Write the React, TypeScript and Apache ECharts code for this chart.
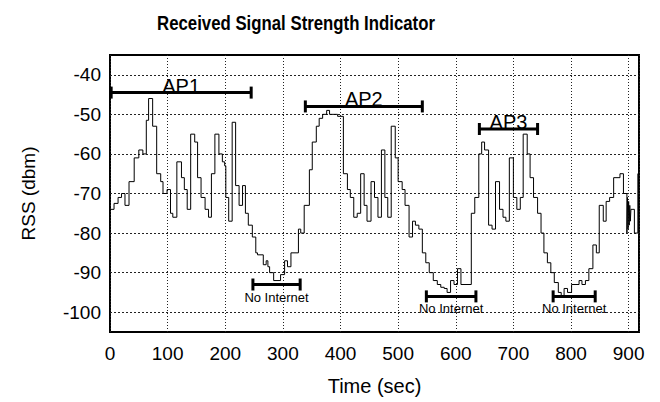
import React, { useEffect, useRef } from 'react';
import * as echarts from 'echarts';

const timeSec = [
  0, 7, 14, 20, 26, 33, 42, 50, 57, 63, 67, 74, 81, 88, 92, 99, 105, 109, 116, 124,
  129, 134, 140, 147, 152, 158, 165, 171, 176, 182, 189, 195, 199, 201, 206, 212, 218, 224, 230, 235,
  240, 247, 253, 256, 266, 271, 274, 277, 284, 296, 303, 308, 314, 327, 331, 337, 346, 351, 358, 363,
  369, 376, 381, 395, 405, 412, 417, 423, 429, 435, 441, 446, 453, 459, 465, 471, 477, 482, 488, 495,
  500, 507, 512, 519, 525, 530, 536, 542, 548, 554, 561, 568, 574, 580, 585, 591, 597, 603, 609, 627,
  633, 640, 645, 650, 657, 663, 669, 676, 682, 687, 693, 700, 706, 712, 717, 724, 729, 735, 742, 748,
  753, 759, 765, 771, 778, 783, 788, 794, 801, 814, 819, 825, 831, 838, 844, 849, 856, 861, 867, 874,
  885, 891, 897, 898, 899, 900, 901, 902, 903, 904, 910, 916, 918,
];
const rssDbm = [
  -74, -72.5, -71, -70, -73, -67, -61, -59, -60, -51.5, -46, -53, -65, -67, -70, -69, -75, -76, -62, -66,
  -69, -74, -55, -57, -66, -71, -74, -76, -65, -55, -60, -62, -63, -71, -77, -52, -68, -73, -68, -75,
  -78, -81, -85, -85.5, -88, -87, -88.5, -90, -92, -90.5, -87, -88.5, -85, -79, -80, -73, -64, -57, -53, -51,
  -50, -49, -50, -50.5, -65, -69, -71, -76, -75, -65, -73, -77, -67, -71, -76, -59, -71, -76, -53, -61,
  -67, -69, -73, -81, -77, -78, -79, -85, -87.5, -90, -92, -93, -93.7, -94, -95, -92, -93, -89, -93, -75,
  -71, -60, -57, -59, -78, -79, -67, -74, -76, -77, -61, -71, -74, -71, -55, -60, -66, -71, -75, -80,
  -85, -87.5, -90, -92.5, -95, -96, -94, -95, -93, -92, -93, -92, -89, -83, -85, -73, -77, -72, -71, -66,
  -65, -70, -80, -71, -79, -72, -78, -73, -77, -74, -80, -65, -65,
];

const yGridValues = [-100, -90, -80, -70, -60, -50, -40];

const apNames = ['AP1', 'AP2', 'AP3'];
const apStart = [2, 339, 641];
const apEnd = [245, 542, 742];
const apLevel = [-44.5, -48, -53.7];

const outageNames = ['No Internet', 'No Internet', 'No Internet'];
const outageStart = [248, 549, 769];
const outageEnd = [330, 635, 842];
const outageLevel = [-93, -96, -96];

const FONT = '"Liberation Sans", Arial, Helvetica, sans-serif';

export default function App() {
  const ref = useRef<HTMLDivElement>(null);

  useEffect(() => {
    const chart = echarts.init(ref.current as HTMLDivElement, null, { renderer: 'svg' });

    const rangeRenderer = (labels: string[], above: boolean, fontSize: number) =>
      (params: any, api: any) => {
        const y = api.value(2);
        const p0 = api.coord([api.value(0), y]);
        const p1 = api.coord([api.value(1), y]);
        const cap = 6;
        const st = { stroke: '#000', lineWidth: 3 };
        const mid = (p0[0] + p1[0]) / 2;
        return {
          type: 'group',
          children: [
            { type: 'line', shape: { x1: p0[0], y1: p0[1], x2: p1[0], y2: p1[1] }, style: st },
            { type: 'line', shape: { x1: p0[0], y1: p0[1] - cap, x2: p0[0], y2: p0[1] + cap }, style: st },
            { type: 'line', shape: { x1: p1[0], y1: p1[1] - cap, x2: p1[0], y2: p1[1] + cap }, style: st },
            {
              type: 'text',
              x: mid,
              y: above ? p0[1] + 3 : p0[1] + 6,
              style: {
                text: labels[params.dataIndex],
                fill: '#000',
                fontSize,
                fontFamily: FONT,
                align: 'center',
                verticalAlign: above ? 'bottom' : 'top',
              },
            },
          ],
        };
      };

    chart.setOption({
      animation: false,
      backgroundColor: '#fff',
      grid: {
        left: 110,
        top: 55,
        right: 21,
        bottom: 70,
        show: true,
        borderColor: '#000',
        borderWidth: 2,
        backgroundColor: 'transparent',
      },
      graphic: [
        {
          type: 'text',
          x: 296,
          y: 23,
          scaleX: 0.84,
          style: {
            text: 'Received Signal Strength Indicator',
            fontSize: 20,
            fontWeight: 'bold',
            fontFamily: FONT,
            fill: '#000',
            align: 'center',
            verticalAlign: 'middle',
          },
        },
      ],
      xAxis: {
        type: 'value',
        min: 0,
        max: 918,
        interval: 100,
        name: 'Time (sec)',
        nameLocation: 'middle',
        nameGap: 44,
        nameTextStyle: { fontSize: 20, color: '#000', fontFamily: FONT },
        axisLine: { show: false },
        axisTick: { show: false },
        axisLabel: {
          fontSize: 19,
          color: '#000',
          fontFamily: FONT,
          margin: 12,
          formatter: (v: number) => (v % 100 === 0 ? String(v) : ''),
        },
        splitLine: { show: true, lineStyle: { color: '#222', type: [1, 2], width: 1 } },
      },
      yAxis: {
        type: 'value',
        min: -105,
        max: -35,
        interval: 5,
        name: 'RSS (dbm)',
        nameLocation: 'middle',
        nameGap: 72,
        nameTextStyle: { fontSize: 19, color: '#000', fontFamily: FONT },
        axisLine: { show: false },
        axisTick: { show: false },
        axisLabel: {
          fontSize: 19,
          color: '#000',
          fontFamily: FONT,
          margin: 9,
          formatter: (v: number) => (v % 10 === 0 ? String(v) : ''),
        },
        splitLine: { show: false },
      },
      series: [
        {
          type: 'line',
          step: 'end',
          data: timeSec.map((t, i) => [t, rssDbm[i]]),
          showSymbol: false,
          symbol: 'none',
          lineStyle: { color: '#000', width: 1 },
          z: 3,
          markLine: {
            silent: true,
            symbol: 'none',
            label: { show: false },
            lineStyle: { color: '#222', type: [2, 2], width: 1 },
            data: yGridValues.map((v) => ({ yAxis: v })),
            z: 1,
          },
        },
        {
          type: 'custom',
          renderItem: rangeRenderer(apNames, true, 20),
          data: apNames.map((_, i) => [apStart[i], apEnd[i], apLevel[i]]),
          encode: { x: [0, 1], y: 2 },
          clip: false,
          z: 4,
        },
        {
          type: 'custom',
          renderItem: rangeRenderer(outageNames, false, 13),
          data: outageNames.map((_, i) => [outageStart[i], outageEnd[i], outageLevel[i]]),
          encode: { x: [0, 1], y: 2 },
          clip: false,
          z: 4,
        },
      ],
    });

    return () => {
      chart.dispose();
    };
  }, []);

  return (
    <div
      ref={ref}
      style={{ position: 'fixed', left: 0, top: 0, width: 660, height: 402, background: '#fff' }}
    />
  );
}
